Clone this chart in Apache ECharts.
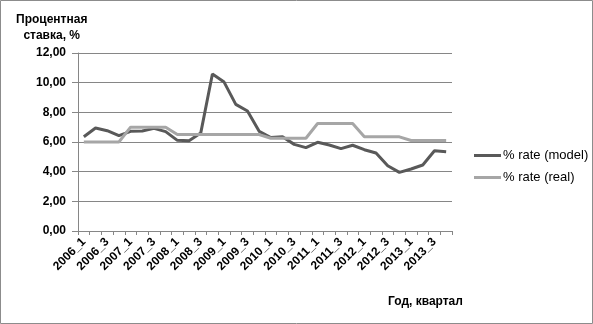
<!DOCTYPE html>
<html>
<head>
<meta charset="utf-8">
<script src="https://cdn.jsdelivr.net/npm/echarts@6/dist/echarts.min.js"></script>
<style>
  html, body { margin: 0; padding: 0; background: #fff; }
  #chart { width: 593px; height: 324px; }
</style>
</head>
<body>
<div id="chart"></div>
<script>
// quarters 2006_1 .. 2013_4
var quarters = [];
for (var y = 2006; y <= 2013; y++) {
    for (var q = 1; q <= 4; q++) {
        quarters.push(y + '_' + q);
    }
}

var rateModel = [6.35, 6.94, 6.76, 6.43, 6.72, 6.74, 6.92, 6.70,
                 6.11, 6.09, 6.60, 10.58, 10.04, 8.54, 8.09, 6.72,
                 6.30, 6.36, 5.84, 5.62, 5.98, 5.80, 5.55, 5.78,
                 5.48, 5.26, 4.40, 3.95, 4.18, 4.45, 5.41, 5.35];

var rateReal = [6.0, 6.0, 6.0, 6.0, 7.0, 7.0, 7.0, 7.0,
                6.5, 6.5, 6.5, 6.5, 6.5, 6.5, 6.5, 6.5,
                6.25, 6.25, 6.25, 6.25, 7.25, 7.25, 7.25, 7.25,
                6.35, 6.35, 6.35, 6.35, 6.1, 6.1, 6.1, 6.1];

var seriesNames = ['% rate (model)', '% rate (real)'];
var yTitle = 'Процентная\nставка, %';
var xTitle = 'Год, квартал';

var gridColor = '#868686';
var font = '"Liberation Sans", Arial, sans-serif';

var myChart = echarts.init(document.getElementById('chart'));

var option = {
    animation: false,
    backgroundColor: '#fff',
    grid: { left: 78, right: 141, top: 53, bottom: 93 },
    legend: {
        orient: 'vertical',
        left: 469,
        top: 143,
        icon: 'rect',
        itemWidth: 27,
        itemHeight: 3,
        itemGap: 7,
        textStyle: { fontFamily: font, fontSize: 13, color: '#000', lineHeight: 15, padding: [0, 0, 0, -3] },
        data: seriesNames
    },
    xAxis: {
        type: 'category',
        data: quarters,
        boundaryGap: true,
        axisLine: { lineStyle: { color: gridColor, width: 1 } },
        axisTick: { show: true, interval: 0, length: 4, lineStyle: { color: gridColor } },
        axisLabel: {
            interval: 1,
            rotate: 45,
            margin: 9,
            color: '#000',
            fontFamily: font,
            fontSize: 12,
            fontWeight: 'bold'
        },
        splitLine: { show: false }
    },
    yAxis: {
        type: 'value',
        min: 0,
        max: 12,
        interval: 2,
        axisLine: { show: true, lineStyle: { color: gridColor, width: 1 } },
        axisTick: { show: true, length: 6, lineStyle: { color: gridColor } },
        axisLabel: {
            margin: 12,
            color: '#000',
            fontFamily: font,
            fontSize: 12,
            fontWeight: 'bold',
            formatter: function (v) {
                return v.toFixed(2).replace('.', ',');
            }
        },
        splitLine: { show: true, lineStyle: { color: gridColor, width: 1 } }
    },
    graphic: [
        {
            type: 'rect',
            shape: { x: 0.5, y: 0.5, width: 592, height: 323 },
            style: { fill: 'none', stroke: '#8c8c8c', lineWidth: 1 }
        },
        {
            type: 'text',
            left: 16,
            top: 12,
            style: {
                text: yTitle,
                fill: '#000',
                font: 'bold 12px ' + font,
                textAlign: 'center',
                lineHeight: 16
            }
        },
        {
            type: 'text',
            left: 388,
            top: 296,
            style: {
                text: xTitle,
                fill: '#000',
                font: 'bold 12px ' + font
            }
        }
    ],
    series: [
        {
            name: seriesNames[0],
            type: 'line',
            data: rateModel,
            symbol: 'none',
            smooth: false,
            lineStyle: { color: '#595959', width: 3 },
            itemStyle: { color: '#595959' }
        },
        {
            name: seriesNames[1],
            type: 'line',
            data: rateReal,
            symbol: 'none',
            smooth: false,
            lineStyle: { color: '#a6a6a6', width: 3 },
            itemStyle: { color: '#a6a6a6' }
        }
    ]
};

myChart.setOption(option);
</script>
</body>
</html>
